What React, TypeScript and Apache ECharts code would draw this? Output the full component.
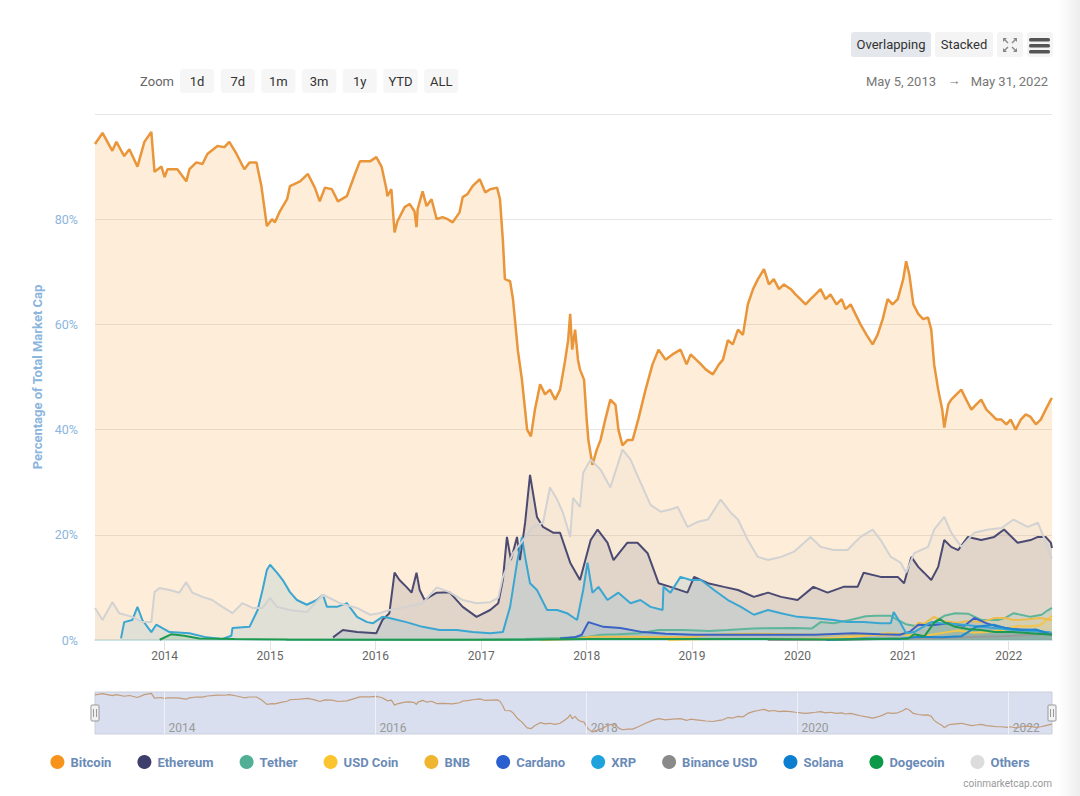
import React, { useEffect, useRef } from "react";
import * as echarts from "echarts";

const FONT = "Roboto, 'Noto Sans', Arial, sans-serif";

// ---------- data ----------
const coinNames = ["Bitcoin", "Ethereum", "Tether", "USD Coin", "BNB", "Cardano", "XRP", "Binance USD", "Solana", "Dogecoin", "Others"];
const legendColors = ["#f7931a", "#3e3e6c", "#50af95", "#fcc42e", "#f0b52f", "#2a5fcf", "#1ea3dc", "#8a8a8a", "#0c7ed0", "#0c9a49", "#dcdcdc"];
const lineColors = ["#e9953a", "#4a4a72", "#5db59c", "#f3c54a", "#ecbd4c", "#3a62c6", "#3aa6d2", "#9a9a9a", "#1f86cf", "#1e9a50", "#d2d2d2"];

const xRange = ["2013-05-05", "2022-05-31"];
const yearTicks = ["2014-01-01", "2015-01-01", "2016-01-01", "2017-01-01", "2018-01-01", "2019-01-01", "2020-01-01", "2021-01-01", "2022-01-01"];
const navigatorTicks = ["2014-01-01", "2016-01-01", "2018-01-01", "2020-01-01", "2022-01-01"];
const yTicks = [0, 20, 40, 60, 80, 100];

const bitcoin: [string, number][] = [
  ["2013-05-05", 94.3], ["2013-05-31", 96.4], ["2013-07-04", 93.0], ["2013-07-18", 94.7], ["2013-08-14", 92.0], ["2013-09-01", 93.3], ["2013-09-29", 90.0], ["2013-10-23", 94.7], ["2013-11-16", 96.6], ["2013-11-27", 89.0], ["2013-12-21", 90.0],
  ["2014-01-01", 88.0], ["2014-01-11", 89.5], ["2014-02-14", 89.5], ["2014-03-17", 87.2], ["2014-03-28", 89.5], ["2014-04-21", 90.8], ["2014-05-12", 90.5], ["2014-05-29", 92.4], ["2014-07-03", 93.9], ["2014-07-27", 93.7], ["2014-08-13", 94.7], ["2014-09-07", 92.4], ["2014-10-04", 89.5], ["2014-10-22", 90.8], ["2014-11-15", 90.8], ["2014-12-02", 86.3], ["2014-12-21", 78.7],
  ["2015-01-08", 80.0], ["2015-01-18", 79.4], ["2015-02-04", 81.5], ["2015-03-01", 83.8], ["2015-03-11", 86.3], ["2015-04-15", 87.2], ["2015-05-12", 88.6], ["2015-06-05", 86.0], ["2015-06-22", 83.4], ["2015-07-10", 86.0], ["2015-08-03", 85.7], ["2015-08-24", 83.4], ["2015-09-24", 84.4], ["2015-10-22", 88.6], ["2015-11-08", 91.0], ["2015-12-13", 91.0],
  ["2016-01-04", 91.8], ["2016-01-22", 90.0], ["2016-02-08", 85.7], ["2016-02-11", 84.4], ["2016-02-25", 85.7], ["2016-03-07", 77.5], ["2016-03-17", 79.6], ["2016-04-11", 82.3], ["2016-04-28", 82.9], ["2016-05-15", 81.5], ["2016-05-22", 78.5], ["2016-05-26", 81.9], ["2016-06-12", 85.3], ["2016-06-26", 82.5], ["2016-07-13", 83.8], ["2016-07-31", 80.0], ["2016-08-20", 80.4], ["2016-09-07", 80.0], ["2016-09-24", 79.4], ["2016-10-18", 81.3], ["2016-10-29", 84.2], ["2016-11-15", 84.8], ["2016-12-02", 86.3], ["2016-12-27", 87.6],
  ["2017-01-15", 85.1], ["2017-02-01", 85.7], ["2017-02-25", 86.0], ["2017-03-07", 83.8], ["2017-03-17", 76.0], ["2017-03-24", 68.6], ["2017-04-11", 68.2], ["2017-04-21", 64.8], ["2017-05-08", 55.0], ["2017-05-22", 49.5], ["2017-06-09", 40.0], ["2017-06-22", 38.7], ["2017-07-06", 43.8], ["2017-07-24", 48.6], ["2017-08-10", 46.7], ["2017-08-27", 47.6], ["2017-09-14", 45.7], ["2017-10-01", 47.6], ["2017-10-18", 53.0], ["2017-10-29", 57.0], ["2017-11-05", 62.0], ["2017-11-12", 55.2], ["2017-11-22", 59.0], ["2017-12-02", 53.3], ["2017-12-09", 51.4], ["2017-12-23", 49.5],
  ["2018-01-01", 42.0], ["2018-01-07", 38.0], ["2018-01-21", 33.3], ["2018-02-04", 36.0], ["2018-02-18", 38.0], ["2018-03-07", 42.0], ["2018-03-24", 45.7], ["2018-04-11", 44.7], ["2018-04-21", 40.0], ["2018-05-05", 37.0], ["2018-05-22", 38.0], ["2018-06-09", 38.0], ["2018-06-29", 42.0], ["2018-07-24", 47.6], ["2018-08-17", 52.4], ["2018-09-07", 55.2], ["2018-10-01", 53.3], ["2018-10-25", 54.3], ["2018-11-22", 55.2], ["2018-12-13", 52.4], ["2018-12-27", 54.3],
  ["2019-01-15", 53.3], ["2019-02-01", 52.4], ["2019-02-18", 51.4], ["2019-03-14", 50.5], ["2019-04-04", 52.4], ["2019-04-18", 53.3], ["2019-05-05", 57.0], ["2019-05-22", 56.2], ["2019-06-09", 59.0], ["2019-06-26", 58.0], ["2019-07-13", 63.8], ["2019-07-31", 66.7], ["2019-08-17", 68.6], ["2019-09-07", 70.5], ["2019-09-24", 67.6], ["2019-10-11", 68.6], ["2019-10-29", 66.7], ["2019-11-15", 67.6], ["2019-12-09", 66.7], ["2019-12-25", 65.7],
  ["2020-01-11", 64.8], ["2020-01-29", 63.8], ["2020-02-15", 64.8], ["2020-03-03", 65.7], ["2020-03-21", 66.7], ["2020-04-07", 64.8], ["2020-04-24", 65.7], ["2020-05-15", 63.8], ["2020-06-02", 64.8], ["2020-06-15", 62.9], ["2020-07-03", 63.8], ["2020-07-20", 61.9], ["2020-08-06", 60.0], ["2020-08-27", 58.0], ["2020-09-17", 56.2], ["2020-10-04", 58.0], ["2020-10-22", 61.0], ["2020-11-08", 64.8], ["2020-11-25", 63.8], ["2020-12-13", 64.8],
  ["2021-01-01", 68.6], ["2021-01-11", 72.0], ["2021-01-22", 69.5], ["2021-02-05", 63.8], ["2021-02-22", 62.0], ["2021-03-11", 61.0], ["2021-03-28", 61.3], ["2021-04-08", 59.0], ["2021-04-18", 52.4], ["2021-05-02", 47.6], ["2021-05-16", 43.8], ["2021-05-23", 40.4], ["2021-06-06", 44.8], ["2021-06-16", 45.7], ["2021-07-04", 46.7], ["2021-07-21", 47.6], ["2021-08-07", 45.7], ["2021-08-25", 43.8], ["2021-09-11", 44.8], ["2021-09-28", 45.7], ["2021-10-16", 43.8], ["2021-11-02", 42.9], ["2021-11-20", 41.9], ["2021-12-07", 41.9], ["2021-12-24", 41.0],
  ["2022-01-08", 41.9], ["2022-01-25", 40.0], ["2022-02-12", 41.9], ["2022-03-01", 42.9], ["2022-03-18", 42.4], ["2022-04-05", 41.0], ["2022-04-22", 41.9], ["2022-05-09", 43.8], ["2022-05-27", 45.7], ["2022-05-31", 46.0],
];

const ethereum: [string, number][] = [
  ["2015-08-07", 0.5], ["2015-09-10", 1.9], ["2015-10-29", 1.5], ["2016-01-04", 1.3], ["2016-01-25", 3.8], ["2016-02-18", 5.1], ["2016-03-07", 12.8], ["2016-03-24", 11.4], ["2016-04-17", 10.1], ["2016-05-05", 9.0], ["2016-05-22", 12.8], ["2016-06-02", 9.5], ["2016-06-19", 7.6], ["2016-07-06", 8.2], ["2016-07-31", 9.0], ["2016-09-13", 9.1], ["2016-10-29", 6.3], ["2016-12-16", 4.4],
  ["2017-02-01", 5.7], ["2017-03-01", 7.0], ["2017-03-17", 11.4], ["2017-03-31", 19.6], ["2017-04-14", 15.2], ["2017-05-05", 19.6], ["2017-05-15", 15.2], ["2017-06-02", 22.3], ["2017-06-19", 31.4], ["2017-07-13", 23.4], ["2017-08-03", 21.5], ["2017-09-07", 20.4], ["2017-10-01", 20.4], ["2017-11-05", 14.7], ["2017-12-09", 11.4],
  ["2018-01-15", 19.0], ["2018-02-08", 21.0], ["2018-03-14", 18.5], ["2018-04-04", 15.2], ["2018-05-22", 18.5], ["2018-06-26", 18.5], ["2018-07-31", 16.5], ["2018-09-07", 10.8], ["2018-10-18", 10.1], ["2018-12-16", 9.0],
  ["2019-01-08", 12.0], ["2019-02-25", 10.8], ["2019-04-21", 10.1], ["2019-06-09", 9.5], ["2019-08-03", 8.2], ["2019-09-21", 9.0], ["2019-11-05", 8.2], ["2020-01-01", 7.6], ["2020-02-25", 10.1], ["2020-04-14", 9.0], ["2020-06-08", 10.1], ["2020-07-27", 10.1], ["2020-08-17", 12.8], ["2020-10-15", 12.0], ["2020-12-13", 12.0],
  ["2021-01-04", 10.8], ["2021-01-29", 15.8], ["2021-02-22", 13.9], ["2021-03-14", 12.8], ["2021-04-08", 11.4], ["2021-05-02", 13.9], ["2021-05-23", 19.0], ["2021-06-16", 17.7], ["2021-07-10", 17.1], ["2021-08-13", 19.6], ["2021-09-28", 19.0], ["2021-11-12", 19.6], ["2021-12-16", 21.0],
  ["2022-02-01", 18.5], ["2022-03-18", 19.0], ["2022-04-12", 19.6], ["2022-05-09", 19.6], ["2022-05-27", 18.5], ["2022-05-31", 17.5],
];

const tether: [string, number][] = [
  ["2015-02-25", 0.05], ["2016-06-01", 0.05], ["2017-01-01", 0.1], ["2017-06-01", 0.2], ["2017-10-01", 0.4], ["2018-01-07", 0.6], ["2018-02-20", 1.0], ["2018-04-21", 1.1], ["2018-07-01", 1.3], ["2018-09-07", 1.9], ["2018-12-03", 1.9],
  ["2019-03-01", 1.7], ["2019-05-05", 1.9], ["2019-08-01", 2.2], ["2019-12-20", 2.3], ["2020-02-20", 2.2], ["2020-03-21", 3.4], ["2020-05-05", 3.2], ["2020-07-01", 3.8], ["2020-08-24", 4.5], ["2020-10-01", 4.6], ["2020-11-19", 4.6], ["2020-12-13", 3.8],
  ["2021-01-10", 3.0], ["2021-02-08", 2.7], ["2021-03-15", 3.0], ["2021-04-18", 3.4], ["2021-05-23", 4.6], ["2021-06-30", 5.1], ["2021-08-13", 5.0], ["2021-09-28", 3.8], ["2021-11-26", 3.8], ["2021-12-20", 4.2],
  ["2022-01-18", 5.1], ["2022-03-18", 4.4], ["2022-04-25", 4.8], ["2022-05-15", 5.6], ["2022-05-31", 6.1],
];

const usdCoin: [string, number][] = [
  ["2018-10-10", 0.02], ["2019-01-15", 0.15], ["2019-06-15", 0.2], ["2019-12-15", 0.2], ["2020-03-21", 0.3], ["2020-06-15", 0.5], ["2020-08-24", 0.8], ["2020-11-01", 1.3], ["2020-12-20", 1.2],
  ["2021-01-25", 0.9], ["2021-03-15", 0.8], ["2021-05-23", 1.4], ["2021-07-10", 1.8], ["2021-09-04", 1.4], ["2021-10-15", 1.5], ["2021-12-15", 1.9],
  ["2022-01-25", 2.6], ["2022-03-15", 2.6], ["2022-04-20", 2.8], ["2022-05-12", 3.8], ["2022-05-31", 4.6],
];

const bnb: [string, number][] = [
  ["2017-07-25", 0.01], ["2017-12-01", 0.2], ["2018-01-10", 0.6], ["2018-06-01", 0.6], ["2018-12-15", 0.5], ["2019-03-15", 1.0], ["2019-06-20", 1.2], ["2019-09-15", 1.2], ["2020-03-01", 1.0], ["2020-06-15", 1.1], ["2020-11-01", 0.9],
  ["2021-01-22", 1.3], ["2021-02-22", 3.3], ["2021-03-15", 3.1], ["2021-04-18", 4.4], ["2021-05-23", 3.5], ["2021-07-10", 3.3], ["2021-08-13", 3.6], ["2021-09-28", 3.4], ["2021-11-15", 4.2], ["2021-12-20", 4.2],
  ["2022-01-18", 3.8], ["2022-03-01", 3.9], ["2022-04-20", 4.2], ["2022-05-31", 3.8],
];

const cardano: [string, number][] = [
  ["2017-10-01", 0.3], ["2017-11-20", 0.5], ["2017-12-15", 1.0], ["2018-01-07", 3.4], ["2018-02-28", 2.5], ["2018-04-28", 2.3], ["2018-07-14", 1.5], ["2018-10-01", 1.2], ["2019-01-08", 1.0], ["2019-09-03", 1.0], ["2020-03-01", 1.0], ["2020-07-13", 1.3], ["2020-10-15", 1.1], ["2020-12-20", 1.0],
  ["2021-01-25", 1.6], ["2021-02-22", 2.9], ["2021-04-10", 2.8], ["2021-06-06", 3.2], ["2021-08-01", 2.7], ["2021-09-04", 4.2], ["2021-10-15", 3.2], ["2021-11-26", 2.5], ["2022-01-10", 2.1], ["2022-03-18", 1.9], ["2022-05-31", 1.3],
];

const xrp: [string, number][] = [
  ["2013-08-03", 0.3], ["2013-08-14", 3.4], ["2013-09-11", 3.8], ["2013-09-29", 6.3], ["2013-10-16", 3.8], ["2013-11-16", 1.5], ["2013-12-03", 2.9], ["2014-01-18", 1.5], ["2014-03-28", 1.3], ["2014-05-26", 0.5], ["2014-07-20", 0.2], ["2014-08-20", 0.8], ["2014-08-24", 2.3], ["2014-10-22", 2.5], ["2014-11-19", 5.7], ["2014-12-06", 9.5], ["2014-12-21", 13.3],
  ["2015-01-01", 14.3], ["2015-01-25", 12.8], ["2015-02-14", 11.4], ["2015-03-11", 9.1], ["2015-04-04", 7.6], ["2015-05-08", 6.7], ["2015-06-12", 7.6], ["2015-07-03", 8.6], ["2015-07-17", 6.3], ["2015-08-21", 6.3], ["2015-09-24", 7.0], ["2015-10-29", 4.4], ["2015-12-03", 3.4], ["2015-12-24", 3.2],
  ["2016-01-25", 4.4], ["2016-02-18", 4.2], ["2016-04-17", 3.4], ["2016-06-12", 2.5], ["2016-08-10", 1.9], ["2016-10-08", 1.9], ["2016-12-02", 1.5],
  ["2017-02-01", 1.3], ["2017-03-17", 1.5], ["2017-04-11", 6.3], ["2017-05-05", 14.7], ["2017-05-22", 19.6], ["2017-06-02", 15.8], ["2017-06-19", 10.8], ["2017-07-13", 9.5], ["2017-08-17", 5.7], ["2017-09-21", 5.7], ["2017-10-25", 5.1], ["2017-11-29", 3.8], ["2017-12-20", 9.5],
  ["2018-01-04", 14.7], ["2018-01-21", 9.0], ["2018-02-11", 10.1], ["2018-03-14", 7.6], ["2018-04-21", 9.0], ["2018-06-02", 7.0], ["2018-07-06", 7.6], ["2018-08-10", 6.3], ["2018-09-21", 5.7], ["2018-09-24", 10.1], ["2018-10-18", 9.0], ["2018-11-22", 12.0], ["2018-12-27", 11.4],
  ["2019-02-01", 11.4], ["2019-03-18", 9.5], ["2019-05-05", 7.6], ["2019-06-19", 6.3], ["2019-08-03", 4.8], ["2019-09-21", 5.7], ["2019-11-05", 5.1], ["2020-01-01", 4.4], ["2020-02-25", 4.2], ["2020-05-05", 3.8], ["2020-06-22", 3.4], ["2020-08-17", 3.4], ["2020-10-15", 3.2], ["2020-11-19", 3.2], ["2020-11-29", 5.3], ["2020-12-23", 3.2],
  ["2021-01-11", 1.3], ["2021-02-08", 1.5], ["2021-04-08", 3.4], ["2021-05-12", 3.2], ["2021-07-31", 2.9], ["2021-09-28", 2.5], ["2022-01-18", 1.9], ["2022-05-16", 1.5], ["2022-05-31", 1.4],
];

const binanceUsd: [string, number][] = [
  ["2019-09-20", 0.01], ["2020-06-15", 0.05], ["2021-01-15", 0.3], ["2021-05-15", 0.4], ["2021-09-15", 0.6], ["2021-12-15", 0.7], ["2022-02-15", 0.9], ["2022-05-31", 1.3],
];

const solana: [string, number][] = [
  ["2020-04-10", 0.02], ["2020-08-20", 0.3], ["2020-12-20", 0.2], ["2021-02-20", 0.6], ["2021-05-15", 0.5], ["2021-07-20", 0.7], ["2021-08-13", 1.5], ["2021-09-10", 2.5], ["2021-11-10", 2.9], ["2021-12-20", 2.3], ["2022-02-10", 1.9], ["2022-04-05", 2.0], ["2022-05-31", 1.0],
];

const dogecoin: [string, number][] = [
  ["2013-12-15", 0.05], ["2014-01-25", 1.1], ["2014-03-10", 0.8], ["2014-05-01", 0.3], ["2014-09-01", 0.2], ["2015-03-01", 0.1], ["2016-06-01", 0.05], ["2017-06-01", 0.06], ["2018-01-10", 0.2], ["2018-06-01", 0.2], ["2019-06-01", 0.2], ["2020-06-01", 0.1],
  ["2021-01-20", 0.3], ["2021-01-29", 0.7], ["2021-02-08", 1.1], ["2021-03-15", 0.7], ["2021-04-18", 3.3], ["2021-05-08", 4.0], ["2021-05-23", 3.4], ["2021-06-30", 2.5], ["2021-08-13", 2.1], ["2021-09-28", 1.9], ["2021-11-15", 1.5], ["2022-01-18", 1.5], ["2022-03-18", 1.3], ["2022-05-31", 1.0],
];

const others: [string, number][] = [
  ["2013-05-05", 6.1], ["2013-05-31", 3.8], ["2013-07-04", 7.2], ["2013-07-28", 5.1], ["2013-09-11", 4.4], ["2013-10-16", 3.4], ["2013-11-16", 3.4], ["2013-11-27", 9.1], ["2013-12-14", 9.9],
  ["2014-01-18", 9.5], ["2014-02-21", 9.0], ["2014-03-17", 11.0], ["2014-04-07", 9.0], ["2014-05-12", 8.2], ["2014-06-15", 7.6], ["2014-07-20", 6.3], ["2014-08-24", 5.1], ["2014-09-27", 7.0], ["2014-11-01", 6.1], ["2014-12-06", 6.1],
  ["2015-01-01", 8.0], ["2015-01-25", 6.3], ["2015-03-11", 5.7], ["2015-05-08", 5.3], ["2015-07-03", 8.6], ["2015-08-31", 7.0], ["2015-10-29", 6.1], ["2015-12-13", 4.8],
  ["2016-01-15", 5.1], ["2016-02-18", 5.7], ["2016-04-17", 6.3], ["2016-06-12", 7.0], ["2016-07-31", 10.0], ["2016-09-13", 9.1], ["2016-10-29", 7.6], ["2016-12-16", 7.0],
  ["2017-02-01", 7.2], ["2017-03-01", 8.0], ["2017-03-17", 12.0], ["2017-04-21", 16.5], ["2017-05-26", 19.0], ["2017-06-29", 21.5], ["2017-08-03", 22.3], ["2017-08-27", 29.0], ["2017-09-21", 26.7], ["2017-10-11", 24.2], ["2017-11-05", 19.6], ["2017-11-15", 27.0], ["2017-12-09", 25.3], ["2017-12-20", 31.8],
  ["2018-01-15", 34.3], ["2018-02-18", 32.4], ["2018-03-24", 29.0], ["2018-05-05", 36.2], ["2018-06-02", 34.3], ["2018-07-06", 30.0], ["2018-08-10", 25.7], ["2018-09-14", 24.4], ["2018-10-18", 24.8], ["2018-11-12", 25.3], ["2018-12-16", 21.5],
  ["2019-01-22", 22.5], ["2019-02-25", 22.9], ["2019-04-10", 26.7], ["2019-05-15", 24.2], ["2019-06-09", 22.9], ["2019-07-13", 19.0], ["2019-08-17", 15.8], ["2019-09-21", 15.2], ["2019-11-05", 15.8], ["2019-12-20", 16.8],
  ["2020-02-15", 19.6], ["2020-03-21", 17.7], ["2020-05-05", 17.1], ["2020-06-22", 17.1], ["2020-08-06", 19.6], ["2020-09-17", 21.0], ["2020-10-15", 19.0], ["2020-11-19", 15.8], ["2020-12-23", 14.7],
  ["2021-01-11", 12.8], ["2021-02-08", 16.5], ["2021-03-28", 17.7], ["2021-04-18", 21.0], ["2021-05-23", 23.4], ["2021-06-16", 20.4], ["2021-07-21", 17.7], ["2021-09-04", 20.4], ["2021-10-23", 21.0], ["2021-12-07", 21.3],
  ["2022-01-18", 22.9], ["2022-03-08", 21.5], ["2022-04-12", 22.3], ["2022-05-02", 19.6], ["2022-05-27", 15.8], ["2022-05-31", 15.5],
];

const seriesData = [bitcoin, ethereum, tether, usdCoin, bnb, cardano, xrp, binanceUsd, solana, dogecoin, others];

const zoomButtons = ["1d", "7d", "1m", "3m", "1y", "YTD", "ALL"];
const viewButtons = ["Overlapping", "Stacked"];
const dateFrom = "May 5, 2013";
const dateTo = "May 31, 2022";

// ---------- helpers ----------
const ts = (s: string) => {
  const [y, m, d] = s.split("-").map(Number);
  return Date.UTC(y, m - 1, d);
};
const yearOf = (v: number) => String(new Date(v + 86400000).getUTCFullYear());
const toPoints = (arr: [string, number][]) => arr.map(([d, v]) => [ts(d), v]);

function buildOption() {
  const series: any[] = coinNames.map((name, i) => ({
    name,
    type: "line",
    data: toPoints(seriesData[i]),
    symbol: "none",
    showSymbol: false,
    silent: true,
    xAxisIndex: 0,
    yAxisIndex: 0,
    itemStyle: { color: legendColors[i] },
    lineStyle: { color: lineColors[i], width: i === 0 ? 2.5 : 2 },
    areaStyle: { color: i === 0 ? "#f7931a" : lineColors[i], opacity: i === 0 ? 0.17 : 0.14 },
  }));

  series.push({
    name: "navigator",
    type: "line",
    data: toPoints(bitcoin),
    symbol: "none",
    silent: true,
    xAxisIndex: 1,
    yAxisIndex: 1,
    lineStyle: { color: "#c29c7b", width: 1.2 },
    markLine: {
      silent: true,
      symbol: ["none", "none"],
      label: { show: false },
      lineStyle: { color: "#eef0f7", width: 1, type: "solid" },
      data: navigatorTicks.map((t) => ({ xAxis: ts(t) })),
    },
  });

  const graphic: any[] = [];
  graphic.push({
    type: "rect",
    shape: { x: 1058, y: 0, width: 22, height: 796 },
    style: {
      fill: new echarts.graphic.LinearGradient(0, 0, 1, 0, [
        { offset: 0, color: "rgba(0,0,0,0)" },
        { offset: 1, color: "rgba(0,0,0,0.07)" },
      ]),
    },
    silent: true,
    z: -1,
  });
  const vb = [
    { x: 851, w: 80, fill: "#e4e7eb" },
    { x: 935, w: 58, fill: "#f4f4f4" },
  ];
  viewButtons.forEach((t, i) => {
    graphic.push({ type: "rect", shape: { x: vb[i].x, y: 32, width: vb[i].w, height: 25, r: 3 }, style: { fill: vb[i].fill } });
    graphic.push({ type: "text", x: vb[i].x + vb[i].w / 2, y: 44, style: { text: t, fill: "#333", fontSize: 13, fontFamily: FONT, align: "center", verticalAlign: "middle" } });
  });
  graphic.push({ type: "rect", shape: { x: 997, y: 32, width: 26, height: 25, r: 3 }, style: { fill: "#f4f4f4" } });
  const fc = [
    [1003, 38, 1, 1],
    [1017, 38, -1, 1],
    [1003, 52, 1, -1],
    [1017, 52, -1, -1],
  ];
  fc.forEach(([x, y, dx, dy]) => {
    graphic.push({ type: "polygon", shape: { points: [[x, y], [x + 4 * dx, y], [x, y + 4 * dy]] }, style: { fill: "#888" } });
    graphic.push({ type: "line", shape: { x1: x + 1 * dx, y1: y + 1 * dy, x2: x + 5 * dx, y2: y + 5 * dy }, style: { stroke: "#888", lineWidth: 1.4 } });
  });
  graphic.push({ type: "rect", shape: { x: 1027, y: 32, width: 26, height: 25, r: 3 }, style: { fill: "#f4f4f4" } });
  [38, 44, 50].forEach((y) => {
    graphic.push({ type: "rect", shape: { x: 1029, y, width: 21, height: 3.6, r: 1.5 }, style: { fill: "#555" } });
  });
  graphic.push({ type: "text", x: 174, y: 81, style: { text: "Zoom", fill: "#666", fontSize: 13, fontFamily: FONT, align: "right", verticalAlign: "middle" } });
  zoomButtons.forEach((t, i) => {
    const x = 180 + i * 40.7;
    graphic.push({ type: "rect", shape: { x, y: 69, width: 34, height: 24, r: 3 }, style: { fill: "#f6f6f6" } });
    graphic.push({ type: "text", x: x + 17, y: 81, style: { text: t, fill: "#333", fontSize: 13, fontFamily: FONT, align: "center", verticalAlign: "middle" } });
  });
  graphic.push({ type: "text", x: 936, y: 81, style: { text: dateFrom, fill: "#777", fontSize: 13, fontFamily: FONT, align: "right", verticalAlign: "middle" } });
  graphic.push({ type: "text", x: 954, y: 80, style: { text: "→", fill: "#777", fontSize: 13, fontFamily: FONT, align: "center", verticalAlign: "middle" } });
  graphic.push({ type: "text", x: 1048, y: 81, style: { text: dateTo, fill: "#777", fontSize: 13, fontFamily: FONT, align: "right", verticalAlign: "middle" } });
  [95, 1052].forEach((cx) => {
    graphic.push({ type: "rect", shape: { x: cx - 4, y: 705, width: 8, height: 16, r: 1 }, style: { fill: "#f2f2f2", stroke: "#999", lineWidth: 1 }, z: 100 });
    graphic.push({ type: "line", shape: { x1: cx - 1.5, y1: 709, x2: cx - 1.5, y2: 717 }, style: { stroke: "#999", lineWidth: 1 }, z: 101 });
    graphic.push({ type: "line", shape: { x1: cx + 1.5, y1: 709, x2: cx + 1.5, y2: 717 }, style: { stroke: "#999", lineWidth: 1 }, z: 101 });
  });
  graphic.push({ type: "text", x: 1052, y: 783, style: { text: "coinmarketcap.com", fill: "#999", fontSize: 10, fontFamily: FONT, align: "right", verticalAlign: "middle" } });

  const xMin = ts(xRange[0]);
  const xMax = ts(xRange[1]);

  return {
    animation: false,
    backgroundColor: "#ffffff",
    textStyle: { fontFamily: FONT },
    grid: [
      { left: 95, right: 28, top: 114, height: 526 },
      { left: 95, right: 28, top: 692, height: 42, show: true, backgroundColor: "#d9dfee", borderColor: "#c9cfdd", borderWidth: 1 },
    ],
    xAxis: [
      {
        type: "value",
        gridIndex: 0,
        min: xMin,
        max: xMax,
        axisLine: { show: true, onZero: false, lineStyle: { color: "#c2e2e8", width: 1.5 } },
        axisTick: { show: true, length: 10, lineStyle: { color: "#e2e2e2" }, customValues: yearTicks.map(ts) },
        axisLabel: {
          color: "#666",
          fontSize: 12,
          fontFamily: FONT,
          margin: 10,
          customValues: yearTicks.map(ts),
          formatter: (v: number) => yearOf(v),
        },
        splitLine: { show: false },
      },
      {
        type: "value",
        gridIndex: 1,
        min: xMin,
        max: xMax,
        axisLine: { show: false },
        axisTick: { show: false },
        axisLabel: {
          inside: true,
          color: "#999",
          fontSize: 12,
          fontFamily: FONT,
          margin: 0,
          align: "left",
          padding: [0, 0, 0, 4],
          customValues: navigatorTicks.map(ts),
          formatter: (v: number) => yearOf(v),
        },
        splitLine: { show: false },
      },
    ],
    yAxis: [
      {
        type: "value",
        gridIndex: 0,
        min: yTicks[0],
        max: yTicks[yTicks.length - 1],
        interval: 20,
        name: "Percentage of Total Market Cap",
        nameLocation: "middle",
        nameGap: 42,
        nameTextStyle: { color: "#8cb5dd", fontWeight: "bold", fontSize: 13, fontFamily: FONT },
        axisLine: { show: false },
        axisTick: { show: false },
        axisLabel: {
          color: "#8cb5dd",
          fontSize: 12.5,
          fontFamily: FONT,
          margin: 17,
          formatter: (v: number) => (v === 100 ? "" : v + "%"),
        },
        splitLine: { show: true, lineStyle: { color: "#e6e6e6" } },
      },
      {
        type: "value",
        gridIndex: 1,
        min: 30,
        max: 99,
        show: false,
        splitLine: { show: false },
      },
    ],
    legend: {
      left: "center",
      top: 755,
      icon: "circle",
      itemWidth: 16,
      itemHeight: 14,
      itemGap: 26,
      selectedMode: false,
      padding: 0,
      textStyle: { color: "#6b8bb7", fontWeight: "bold", fontSize: 13, fontFamily: FONT },
      data: coinNames.map((n, i) => ({ name: n, itemStyle: { color: legendColors[i], borderWidth: 0 } })),
    },
    series,
    graphic,
  };
}

export default function App() {
  const ref = useRef<HTMLDivElement>(null);
  useEffect(() => {
    const chart = echarts.init(ref.current as HTMLDivElement, null, { renderer: "svg" });
    chart.setOption(buildOption() as any);
    return () => chart.dispose();
  }, []);
  return (
    <div
      ref={ref}
      style={{ position: "fixed", left: 0, top: 0, width: 1080, height: 796, background: "#fff" }}
    />
  );
}
